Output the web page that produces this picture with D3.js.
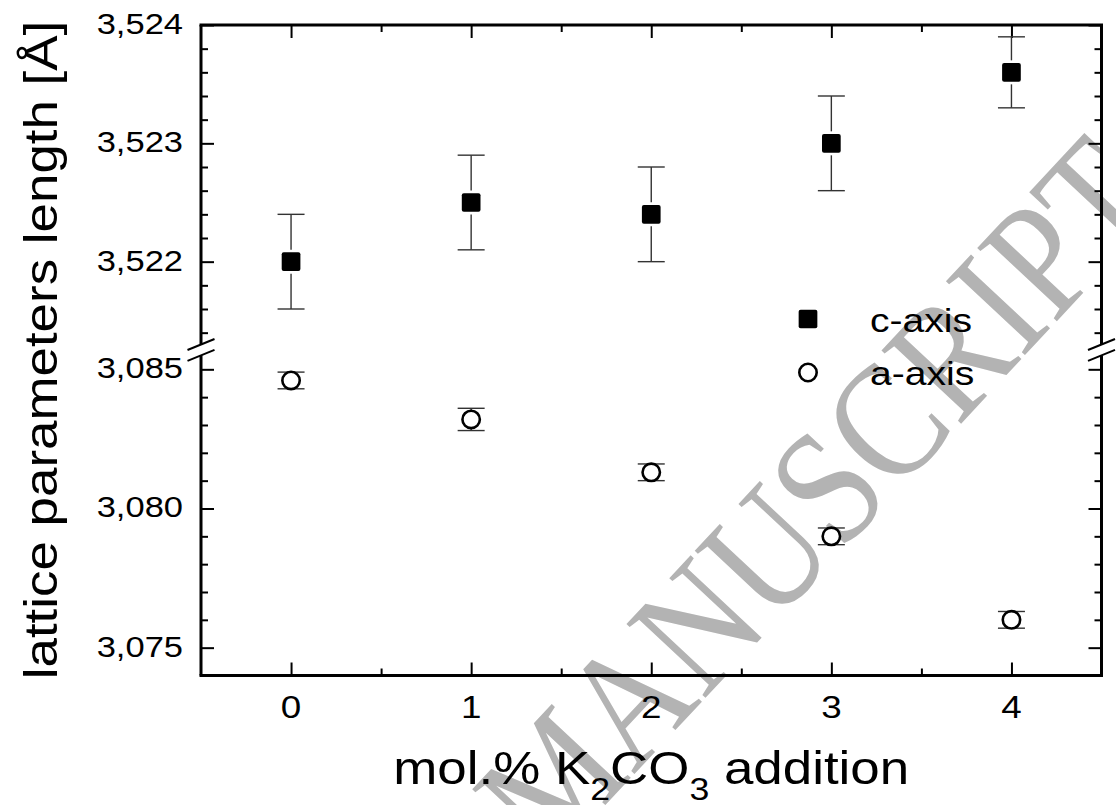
<!DOCTYPE html>
<html>
<head>
<meta charset="utf-8">
<script src="https://cdn.jsdelivr.net/npm/d3@7"></script>
<style>
  body { margin: 0; background: #fff; }
  svg { display: block; font-family: "Liberation Sans", Arial, sans-serif; }
</style>
</head>
<body>
<div id="chart"></div>
<script>
// data
var xValues = [0, 1, 2, 3, 4];
var cAxis = [3.5220, 3.5225, 3.5224, 3.5230, 3.5236];
var cErr = [0.0004, 0.0004, 0.0004, 0.0004, 0.0003];
var aAxis = [3.0846, 3.0832, 3.0813, 3.0790, 3.0760];
var aErr = [0.0003, 0.0004, 0.0003, 0.0003, 0.0003];

var xTicks = [0, 1, 2, 3, 4];
var xMinor = [0.5, 1.5, 2.5, 3.5];
var yUpperTicks = [3.522, 3.523, 3.524];
var yLowerTicks = [3.075, 3.080, 3.085];
var legendLabels = ["c-axis", "a-axis"];

var width = 1116, height = 805;
var pLeft = 201, pRight = 1101.5, pTop = 25, pBottom = 675.5;
var breakTop = 344.5, breakBottom = 355.4;
var stretch = 1.15;

var svg = d3.select("#chart").append("svg")
    .attr("width", width)
    .attr("height", height);

var x = d3.scaleLinear().domain([-0.5, 4.5]).range([pLeft, pRight]);
// broken y axis: two linear pieces
var yUp = d3.scaleLinear().domain([3.5213, 3.524]).range([breakTop, pTop]);
var yLo = d3.scaleLinear().domain([3.074, 3.0855]).range([pBottom, breakBottom]);

var fmt = d3.formatLocale({ decimal: ",", thousands: ".", grouping: [3], currency: ["", ""] }).format(".3f");

// watermark (behind the plot)
svg.append("text")
    .attr("transform", "translate(1165,205) rotate(-47) scale(0.85,1)")
    .attr("text-anchor", "end")
    .style("font-family", "'Liberation Serif', 'Times New Roman', serif")
    .style("font-size", "165px")
    .style("fill", "#b3b3b3")
    .text("ACCEPTED MANUSCRIPT");

// axes ticks
function ticks(axis, pos, vals, size) {
    var g = svg.append("g")
        .attr("transform", pos)
        .call(axis.tickValues(vals).tickSizeInner(size).tickSizeOuter(0).tickFormat(""));
    g.select(".domain").remove();
    g.selectAll("line").attr("stroke", "#000").attr("stroke-width", 2);
}

var upMinor = d3.range(35214, 35240, 2).filter(function(v) { return v % 10 !== 0; }).map(function(v) { return v / 10000; });
var loMinor = d3.range(3076, 3086).filter(function(v) { return v % 5 !== 0; }).map(function(v) { return v / 1000; });

ticks(d3.axisBottom(x), "translate(0," + pBottom + ")", xTicks, -13);
ticks(d3.axisBottom(x), "translate(0," + pBottom + ")", xMinor, -7);
ticks(d3.axisTop(x), "translate(0," + pTop + ")", xTicks, -13);
ticks(d3.axisTop(x), "translate(0," + pTop + ")", xMinor, -7);

[[d3.axisLeft, pLeft], [d3.axisRight, pRight]].forEach(function(s) {
    var t = "translate(" + s[1] + ",0)";
    ticks(s[0](yUp), t, yUpperTicks, -13);
    ticks(s[0](yUp), t, upMinor, -7);
    ticks(s[0](yLo), t, yLowerTicks, -13);
    ticks(s[0](yLo), t, loMinor, -7);
});

// frame with breaks
var frame = svg.append("g").attr("stroke", "#000").attr("stroke-width", 3).attr("fill", "none");
frame.append("line").attr("x1", pLeft - 1.5).attr("x2", pRight + 1.5).attr("y1", pTop).attr("y2", pTop);
frame.append("line").attr("x1", pLeft - 1.5).attr("x2", pRight + 1.5).attr("y1", pBottom).attr("y2", pBottom);
[pLeft, pRight].forEach(function(px) {
    frame.append("line").attr("x1", px).attr("x2", px).attr("y1", pTop).attr("y2", breakTop);
    frame.append("line").attr("x1", px).attr("x2", px).attr("y1", breakBottom).attr("y2", pBottom);
    [breakTop, breakBottom].forEach(function(py) {
        frame.append("line")
            .attr("stroke-width", 2)
            .attr("x1", px - 13.5).attr("y1", py + 5.5)
            .attr("x2", px + 13.5).attr("y2", py - 5.5);
    });
});

// tick labels
function label(txt, px, py, size, anchor, rot) {
    svg.append("text")
        .attr("transform", "translate(" + px + "," + py + ")" + (rot ? " rotate(" + rot + ")" : "") + " scale(" + stretch + ",1)")
        .attr("text-anchor", anchor)
        .style("font-size", size + "px")
        .text(txt);
}

yUpperTicks.forEach(function(v) { label(fmt(v), 183, yUp(v) + 9, 30, "end"); });
yLowerTicks.forEach(function(v) { label(fmt(v), 183, yLo(v) + 9, 30, "end"); });
xTicks.forEach(function(v) { label(v, x(v), 718, 32, "middle"); });

// axis titles
label("lattice parameters length [Å]", 57, 350, 46, "middle", -90);

var xt = svg.append("text")
    .attr("transform", "translate(" + (pLeft + pRight) / 2 + ",784) scale(" + stretch + ",1)")
    .attr("text-anchor", "middle")
    .style("font-size", "46px");
xt.append("tspan").text("mol.% K");
xt.append("tspan").attr("dy", 16).style("font-size", "31px").text("2");
xt.append("tspan").attr("dy", -16).text("CO");
xt.append("tspan").attr("dy", 16).style("font-size", "31px").text("3");
xt.append("tspan").attr("dy", -16).text(" addition");

// error bars
var ebar = svg.append("g").attr("stroke", "#333").attr("stroke-width", 1.4);
function errorBars(vals, errs, y, gap) {
    xValues.forEach(function(xv, i) {
        var cx = x(xv), hi = y(vals[i] + errs[i]), lo = y(vals[i] - errs[i]), cy = y(vals[i]);
        ebar.append("line").attr("x1", cx).attr("x2", cx).attr("y1", hi).attr("y2", cy - gap);
        ebar.append("line").attr("x1", cx).attr("x2", cx).attr("y1", cy + gap).attr("y2", lo);
        ebar.append("line").attr("x1", cx - 13.5).attr("x2", cx + 13.5).attr("y1", hi).attr("y2", hi);
        ebar.append("line").attr("x1", cx - 13.5).attr("x2", cx + 13.5).attr("y1", lo).attr("y2", lo);
    });
}
errorBars(cAxis, cErr, yUp, 12);
errorBars(aAxis, aErr, yLo, 0);

// markers
var sq = 18.7;
svg.append("g").selectAll("rect")
    .data(xValues)
    .join("rect")
    .attr("x", function(d) { return x(d) - sq / 2; })
    .attr("y", function(d, i) { return yUp(cAxis[i]) - sq / 2; })
    .attr("width", sq).attr("height", sq).attr("rx", 2)
    .attr("fill", "#000");

svg.append("g").selectAll("circle")
    .data(xValues)
    .join("circle")
    .attr("cx", function(d) { return x(d); })
    .attr("cy", function(d, i) { return yLo(aAxis[i]); })
    .attr("r", 8.7)
    .attr("fill", "#fff")
    .attr("stroke", "#000")
    .attr("stroke-width", 2.6);

// legend
var lg = svg.append("g");
lg.append("rect").attr("x", 808 - sq / 2).attr("y", 319 - sq / 2).attr("width", sq).attr("height", sq).attr("rx", 2).attr("fill", "#000");
lg.append("circle").attr("cx", 808).attr("cy", 372.5).attr("r", 8.7).attr("fill", "#fff").attr("stroke", "#000").attr("stroke-width", 2.6);
legendLabels.forEach(function(t, i) {
    lg.append("text")
        .attr("transform", "translate(870," + (332 + i * 53) + ") scale(" + stretch + ",1)")
        .style("font-size", "34px")
        .text(t);
});
</script>
</body>
</html>
